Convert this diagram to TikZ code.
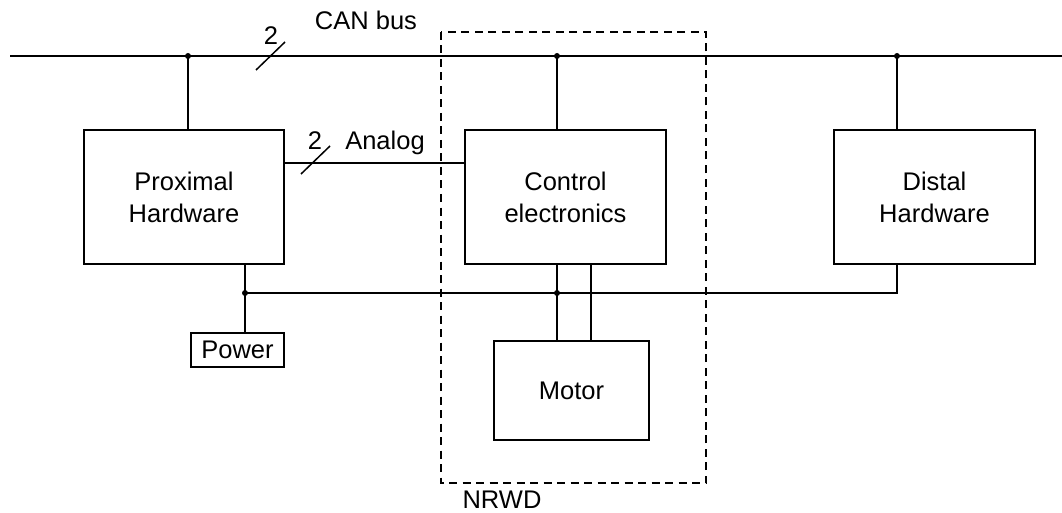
\documentclass[tikz,border=0pt]{standalone}
\usepackage{fontspec}
\setmainfont{Liberation Sans}
\begin{document}
\begin{tikzpicture}[x=1pt,y=-1pt,
  line width=1.5pt,
  every node/.style={font=\fontsize{25.5}{32}\selectfont, inner sep=0pt},
  block/.style={draw, rectangle, align=center, line width=1.5pt},
  dot/.style={circle, fill, minimum size=6pt, inner sep=0pt},
  lbl/.style={anchor=base}]
\useasboundingbox (0,0) rectangle (1062,513);
% boxes
\node[block, minimum width=200pt, minimum height=134pt] (prox) at (184,197) {Proximal\\Hardware};
\node[block, minimum width=201pt, minimum height=134pt] (ctrl) at (565.5,197) {Control\\electronics};
\node[block, minimum width=201pt, minimum height=134pt] (dist) at (934.5,197) {Distal\\Hardware};
\node[block, minimum width=155pt, minimum height=99pt] (motor) at (571.5,390.5) {Motor};
\node[block, minimum width=93pt, minimum height=34pt] (power) at (237.5,350) {Power};
% dashed NRWD frame
\draw[dashed, dash pattern=on 8pt off 5.5pt, line width=1.5pt] (441,32) rectangle (706,483);
\node[lbl] (nrwd) at (502,508) {NRWD};
% CAN bus
\coordinate (busL) at (10,56);
\coordinate (busR) at (1062,56);
\draw (busL) -- (busR);
\node[dot] (j1) at (188,56) {};
\node[dot] (j2) at (557,56) {};
\node[dot] (j3) at (897,56) {};
\draw (j1.center) -- (j1.center |- prox.north);
\draw (j2.center) -- (j2.center |- ctrl.north);
\draw (j3.center) -- (j3.center |- dist.north);
\draw (256,70) -- (285,42);
\node[lbl] (can2) at (271,45) {2};
\node[lbl] (canlbl) at (366,30) {CAN bus};
% Analog
\coordinate (an) at (0,163);
\draw (prox.east |- an) -- (ctrl.west |- an);
\draw (301,174) -- (330,146);
\node[lbl] (an2) at (315,150) {2};
\node[lbl] (anlbl) at (385,150) {Analog};
% power line
\node[dot] (p1) at (245,293) {};
\node[dot] (p2) at (557,293) {};
\coordinate (p3) at (897,293);
\draw (p1.center |- prox.south) -- (p1.center |- power.north);
\draw (p1.center) -- (p3) -- (p3 |- dist.south);
% control to motor
\coordinate (m2) at (591,293);
\draw (p2.center |- ctrl.south) -- (p2.center |- motor.north);
\draw (m2 |- ctrl.south) -- (m2 |- motor.north);
\end{tikzpicture}
\end{document}
